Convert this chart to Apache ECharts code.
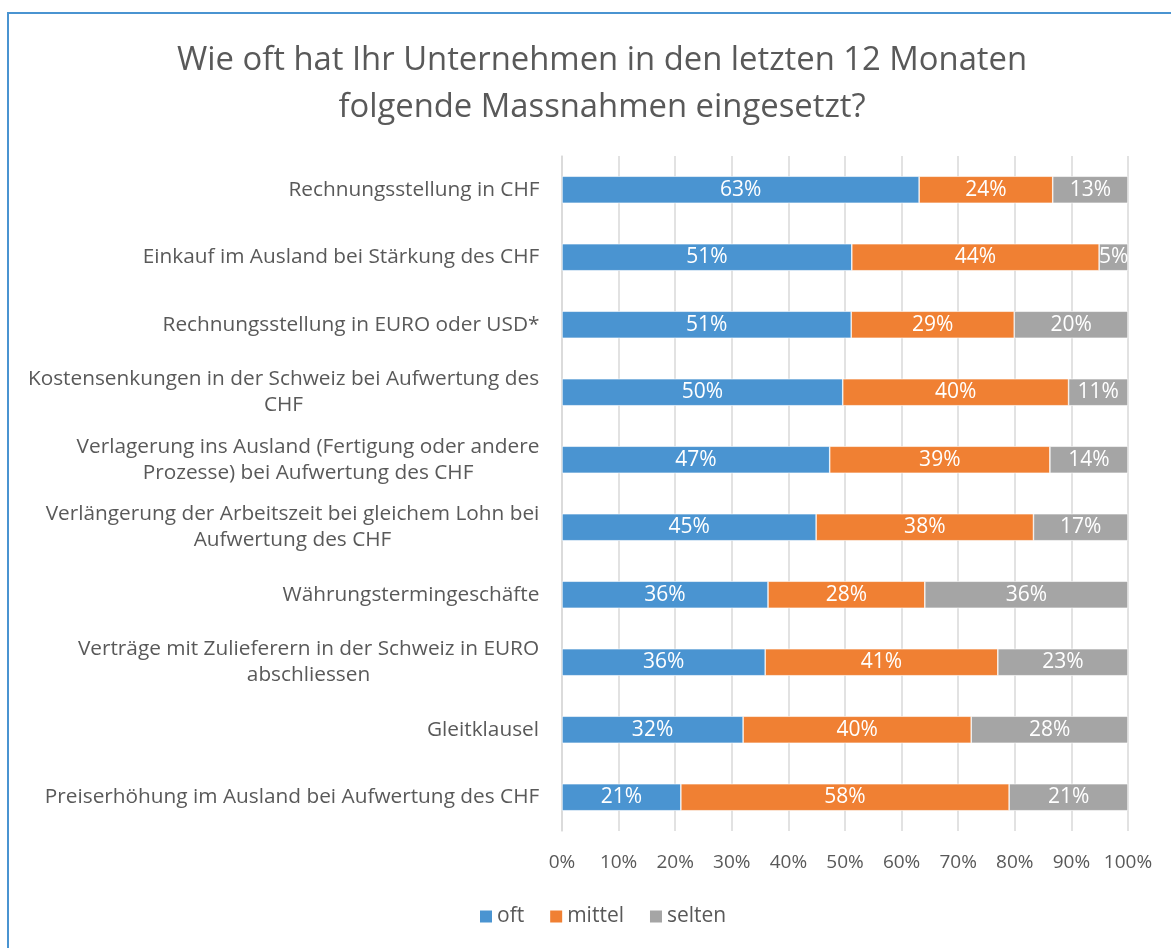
<!DOCTYPE html>
<html><head><meta charset="utf-8">
<script src="https://cdn.jsdelivr.net/npm/echarts@6/dist/echarts.min.js"></script>
<style>
html,body{margin:0;padding:0;background:#fff;overflow:hidden;}
#frame{position:absolute;left:7px;top:12px;width:1200px;height:1000px;border-left:2px solid #4A94D1;border-top:2px solid #4A94D1;box-sizing:border-box;}
#main{position:absolute;left:0;top:0;width:1171px;height:948px;}
</style></head>
<body>
<div id="frame"></div>
<div id="main"></div>
<script>
const titleLines = ["Wie oft hat Ihr Unternehmen in den letzten 12 Monaten", "folgende Massnahmen eingesetzt?"];
const categories = [
  ["Rechnungsstellung in CHF"],
  ["Einkauf im Ausland bei Stärkung des CHF"],
  ["Rechnungsstellung in EURO oder USD*"],
  ["Kostensenkungen in der Schweiz bei Aufwertung des", "CHF"],
  ["Verlagerung ins Ausland (Fertigung oder andere", "Prozesse) bei Aufwertung des CHF"],
  ["Verlängerung der Arbeitszeit bei gleichem Lohn bei", "Aufwertung des CHF"],
  ["Währungstermingeschäfte"],
  ["Verträge mit Zulieferern in der Schweiz in EURO", "abschliessen"],
  ["Gleitklausel"],
  ["Preiserhöhung im Ausland bei Aufwertung des CHF"]
];
const oft    = [63.1, 51.2, 51.1, 49.6, 47.3, 44.9, 36.4, 35.9, 32.0, 21.0];
const mittel = [23.6, 43.7, 28.8, 39.9, 38.9, 38.4, 27.7, 41.1, 40.3, 58.0];
const selten = [13.3,  5.1, 20.1, 10.5, 13.8, 16.7, 35.9, 23.0, 27.7, 21.0];
const seriesNames = ["oft", "mittel", "selten"];

const FONT = "Open Sans";
const LABEL_SIZE = 20.8;
const ctx = document.createElement('canvas').getContext('2d');
ctx.font = LABEL_SIZE + "px '" + FONT + "'";
const catKeys = categories.map((c, i) => 'c' + i);
const rich = {};
categories.forEach((lines, i) => {
  const w = Math.max(...lines.map(l => ctx.measureText(l).width));
  rich['c' + i] = {width: Math.ceil(w) + 1, align: 'center', fontFamily: FONT, fontSize: LABEL_SIZE, color: '#595959', lineHeight: 26};
});

const colors = ['#4A94D1', '#F08033', '#A5A5A5'];
const chart = echarts.init(document.getElementById('main'), null, {renderer: 'canvas'});
const makeSeries = (name, data, idx) => ({
  name: name, type: 'bar', stack: 'total', data: data,
  barCategoryGap: '60%',
  itemStyle: {color: colors[idx], borderColor: '#ffffff', borderWidth: 0.6},
  label: {show: true, position: 'inside', color: '#ffffff', fontFamily: FONT, fontSize: 21,
    formatter: p => Math.round(p.value) + '%'}
});
chart.setOption({
  animation: false,
  backgroundColor: 'transparent',
  title: {
    text: titleLines.join('\n'), left: 597, top: 32, textAlign: 'center',
    textStyle: {fontFamily: FONT, fontSize: 32.8, fontWeight: 'normal', color: '#595959', lineHeight: 47}
  },
  legend: {
    data: seriesNames, bottom: 16, left: 473,
    icon: 'rect', itemWidth: 14, itemHeight: 14, itemGap: 24,
    textStyle: {fontFamily: FONT, fontSize: 21, color: '#595959', padding: [0, 0, 0, -1]}
  },
  grid: {left: 562, right: 43, top: 156, bottom: 117, containLabel: false},
  xAxis: {
    type: 'value', min: 0, max: 100, interval: 10,
    axisLabel: {formatter: v => v + '%', fontFamily: FONT, fontSize: 19, color: '#595959', margin: 22},
    splitLine: {show: true, lineStyle: {color: '#D9D9D9', width: 1.5}},
    axisLine: {show: false}, axisTick: {show: false}
  },
  yAxis: {
    type: 'category', inverse: true, data: catKeys,
    axisLine: {show: true, lineStyle: {color: '#D9D9D9', width: 1.5}},
    axisTick: {show: false},
    axisLabel: {
      margin: 22, align: 'right',
      formatter: (v, i) => categories[i].map(l => '{c' + i + '|' + l + '}').join('\n'),
      rich: rich
    }
  },
  series: [makeSeries(seriesNames[0], oft, 0), makeSeries(seriesNames[1], mittel, 1), makeSeries(seriesNames[2], selten, 2)]
});
</script>
</body></html>
